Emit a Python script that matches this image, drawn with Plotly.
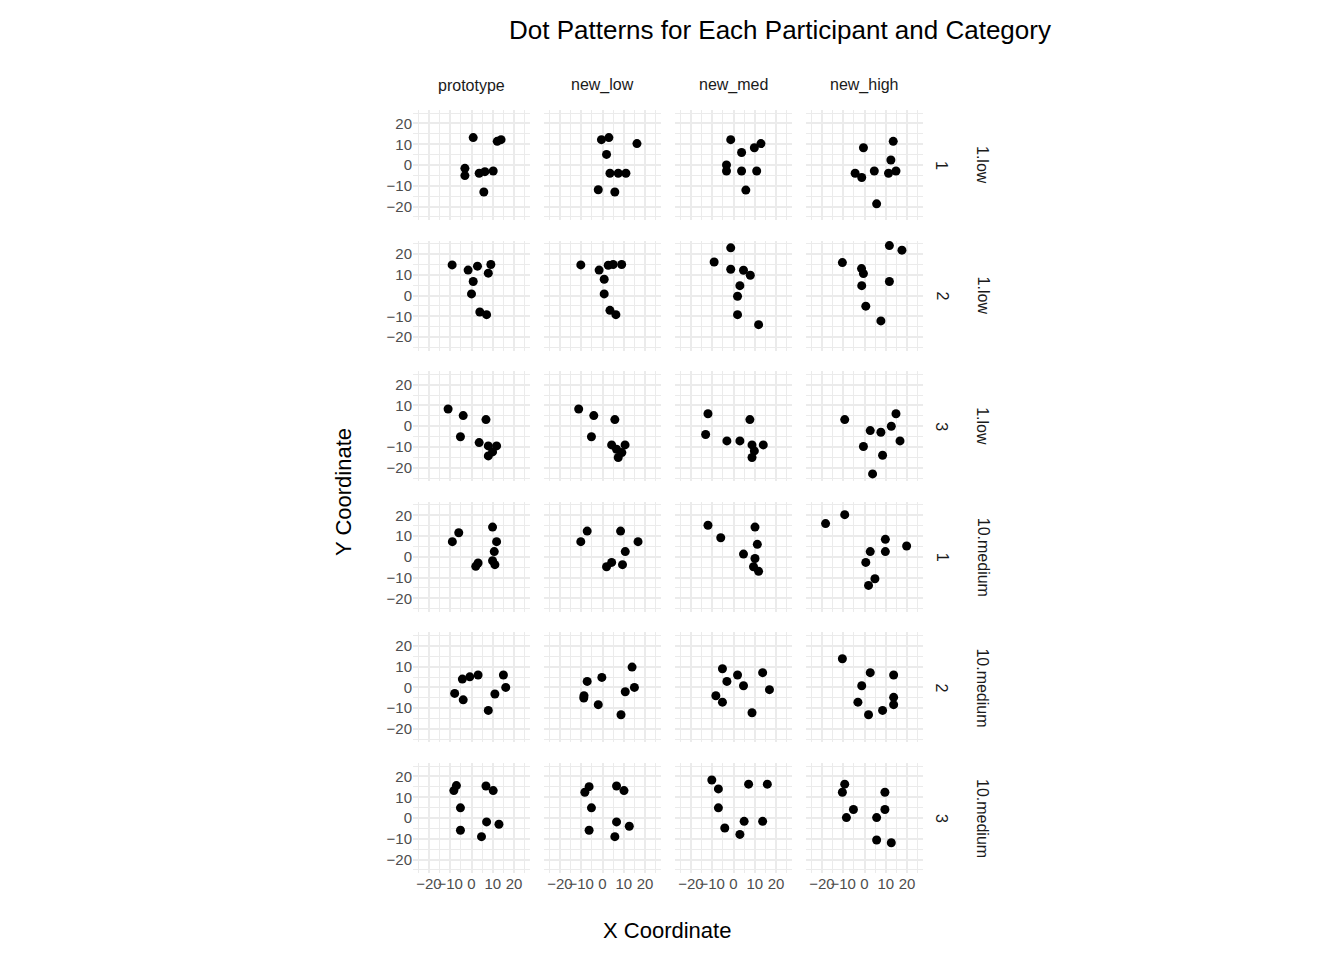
import plotly.graph_objects as go

categories = ["prototype", "new_low", "new_med", "new_high"]
row_labels = [("1", "1.low"), ("2", "1.low"), ("3", "1.low"),
              ("1", "10.medium"), ("2", "10.medium"), ("3", "10.medium")]

# punten per rij (deelnemer) en kolom (categorie): lijsten van (x, y)
r1_prototype = [(0.8, 13.2), (12.1, 11.4), (13.9, 12.2), (-3.1, -1.6), (-3.1, -5.1), (3.6, -4), (6.3, -3.2), (10.2, -2.9), (5.8, -13)]
r1_new_low = [(-0.5, 12.2), (3, 13.2), (16.2, 10.3), (1.9, 5.1), (3.5, -4), (7.4, -4), (11, -4), (-2, -11.9), (5.8, -13)]
r1_new_med = [(-1.3, 12.2), (3.8, 6), (9.8, 8.3), (12.9, 10.3), (-3.3, 0), (-3.3, -2.9), (3.8, -2.9), (10.9, -2.9), (5.8, -12.1)]
r1_new_high = [(-0.5, 8.3), (13.5, 11.4), (12.4, 2.4), (-4.4, -4), (-1.3, -6), (4.6, -2.9), (11.3, -4), (14.8, -2.9), (5.7, -18.7)]

r2_prototype = [(-9.1, 14.8), (-1.6, 12.3), (2.8, 14.2), (9.1, 15), (7.9, 10.8), (0.8, 6.8), (0, 0.8), (3.9, -7.9), (7.1, -9.2)]
r2_new_low = [(-10.2, 14.8), (-1.6, 12.3), (0.8, 7.9), (5, 15), (9, 15), (2.7, 14.6), (0.8, 0.8), (3.5, -7.1), (6.3, -9.2)]
r2_new_med = [(-1.3, 23), (-9.1, 16.2), (-1.3, 12.7), (4.7, 12.2), (7.9, 9.8), (3, 4.8), (1.9, -0.3), (1.9, -9.2), (11.8, -14)]
r2_new_high = [(11.7, 24.1), (17.6, 21.9), (-10.4, 15.9), (-1.4, 13), (-0.5, 10.6), (11.7, 6.8), (-1.3, 4.8), (0.6, -5.1), (7.7, -12.2)]

r3_prototype = [(-11, 8.3), (-3.9, 5.1), (6.8, 3.2), (-5.2, -5.1), (3.6, -7.9), (7.9, -9.5), (11.8, -9.5), (9.9, -12.4), (7.9, -14.3)]
r3_new_low = [(-11.2, 8.3), (-4.1, 5.1), (5.8, 3.2), (-5.2, -5.1), (4.3, -9), (10.6, -9), (9.1, -12.7), (7.4, -15.1), (6.6, -11.1)]
r3_new_med = [(-12, 6), (-13.1, -4), (-3.1, -7.1), (3, -7.1), (7.7, 3.2), (8.7, -9), (14, -9), (9.8, -11.9), (8.7, -15.1)]
r3_new_high = [(-9.3, 3.2), (14.8, 6), (2.7, -2.1), (7.7, -2.9), (12.6, 0), (16.7, -7.1), (-0.5, -9.8), (8.5, -14), (3.8, -23)]

r4_prototype = [(-6, 11.6), (-9, 7.3), (9.9, 14.3), (11.8, 7.3), (10.7, 2.5), (9.9, -1.9), (11, -3.8), (3.1, -3), (2, -4.6)]
r4_new_low = [(-7.2, 12.4), (-10.2, 7.3), (8.5, 12.4), (16.7, 7.3), (10.7, 2.5), (9.4, -3.8), (4.3, -2.7), (1.9, -4.8)]
r4_new_med = [(-12, 15.2), (-6, 9.2), (10.1, 14.3), (11.2, 6), (4.7, 1.3), (10.1, -0.8), (9.4, -4.8), (11.8, -7)]
r4_new_high = [(-18.3, 16), (-9.3, 20.3), (9.8, 8.4), (19.8, 5.2), (2.7, 2.5), (9.8, 2.5), (0.6, -2.7), (4.9, -10.6), (1.9, -13.8)]

r5_prototype = [(-4.3, 4), (-0.8, 5.1), (3.1, 6), (15, 6), (16.1, 0), (-7.9, -2.9), (-3.9, -6), (11, -3.2), (7.9, -11.1)]
r5_new_low = [(-7.2, 2.9), (-0.3, 4.8), (13.9, 9.8), (15, 0), (10.7, -2.1), (-8.7, -4), (-8.8, -5.1), (-2, -8.3), (8.7, -13.2)]
r5_new_med = [(-5.2, 9), (1.9, 6), (-3.1, 2.9), (4.7, 0.8), (13.7, 7.1), (16.9, -1.1), (-8.3, -4), (-5.2, -7.1), (8.7, -12.2)]
r5_new_high = [(-10.4, 13.8), (2.7, 7.1), (13.7, 6), (-1.3, 0.8), (13.7, -4.8), (13.7, -8.3), (-3.1, -7.1), (1.9, -13.2), (8.5, -11.1)]

r6_prototype = [(-7.1, 15.6), (-8.3, 13.2), (6.8, 15.4), (10.2, 13.2), (-5.2, 4.9), (-5.2, -5.9), (7.1, -1.9), (12.9, -3), (4.7, -9)]
r6_new_low = [(-6.3, 15.1), (-8.3, 12.4), (6.6, 15.4), (10.1, 13.2), (-5.2, 4.9), (-6.3, -5.9), (6.6, -1.9), (12.6, -4), (5.8, -9)]
r6_new_med = [(-10.2, 18.3), (-7.1, 14), (7.1, 16.3), (15.9, 16.3), (-7.1, 4.9), (5, -1.6), (13.7, -1.6), (-4.1, -4.8), (3, -7.9)]
r6_new_high = [(-9.3, 16.3), (-10.4, 12.4), (9.6, 12.4), (-5.2, 4.1), (9.6, 4.1), (-8.5, 0.2), (5.7, 0.2), (5.7, -10.6), (12.6, -11.9)]

data = [
    [r1_prototype, r1_new_low, r1_new_med, r1_new_high],
    [r2_prototype, r2_new_low, r2_new_med, r2_new_high],
    [r3_prototype, r3_new_low, r3_new_med, r3_new_high],
    [r4_prototype, r4_new_low, r4_new_med, r4_new_high],
    [r5_prototype, r5_new_low, r5_new_med, r5_new_high],
    [r6_prototype, r6_new_low, r6_new_med, r6_new_high],
]

W, H = 1344, 960
OFF = 8  # body-marge van de pagina
fig = go.Figure()
font = "Liberation Sans, Arial, sans-serif"
tickfont = dict(family=font, size=15, color="#4d4d4d")

def px(x):
    return (x - OFF) / W

def py(y):
    return 1 - (y - OFF) / H

# panelgrootte in pixels
left0, colw, colstep = 413, 117, 131
top0, rowh, rowstep = 110, 110, 130.6

layout = {}
k = 0
for r in range(6):
    for c in range(4):
        k += 1
        pts = data[r][c]
        xa = "x" if k == 1 else f"x{k}"
        ya = "y" if k == 1 else f"y{k}"
        fig.add_trace(go.Scatter(x=[p[0] for p in pts], y=[p[1] for p in pts], mode="markers",
                                 marker=dict(color="black", size=9), xaxis=xa, yaxis=ya,
                                 showlegend=False, hoverinfo="x+y"))
        x0 = left0 + c * colstep
        y0 = top0 + r * rowstep
        axcommon = dict(showgrid=True, gridcolor="#ebebeb", gridwidth=1.5, zeroline=False,
                        showline=False, ticks="", tickvals=[-20, -10, 0, 10, 20],
                        minor=dict(dtick=5, showgrid=True, gridcolor="#ebebeb", gridwidth=0.7),
                        tickfont=tickfont, fixedrange=True, tickangle=0)
        layout["xaxis" if k == 1 else f"xaxis{k}"] = dict(
            axcommon, domain=[px(x0), px(x0 + colw)], range=[-27.5, 27.5],
            anchor=ya, showticklabels=(r == 5))
        layout["yaxis" if k == 1 else f"yaxis{k}"] = dict(
            axcommon, domain=[py(y0 + rowh), py(y0)], range=[-26.5, 26.5],
            anchor=xa, showticklabels=(c == 0))

fig.update_layout(**layout)

ann = []
def label(text, x, y, size, color="#1a1a1a", angle=0):
    ann.append(dict(text=text, x=px(x), y=py(y), xref="paper", yref="paper", showarrow=False,
                    xanchor="center", yanchor="middle", textangle=angle,
                    font=dict(family=font, size=size, color=color)))

for c, name in enumerate(categories):
    label(name, left0 + c * colstep + colw / 2, 85, 16)
for r, (p, cat) in enumerate(row_labels):
    yc = top0 + r * rowstep + rowh / 2
    label(p, 942, yc, 16, angle=90)
    label(cat, 983, yc, 16, angle=90)
label("X Coordinate", 667, 930, 22, "black")
label("Y Coordinate", 343, 492, 22, "black", -90)
label("Dot Patterns for Each Participant and Category", 780, 30, 26, "black")

fig.update_layout(annotations=ann, width=W, height=H, margin=dict(l=0, r=0, t=0, b=0),
                  plot_bgcolor="white", paper_bgcolor="white")
fig.write_html("out.html")
